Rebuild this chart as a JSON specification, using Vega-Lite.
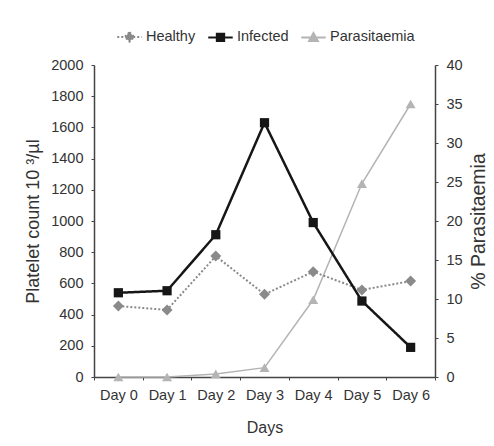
{
  "$schema": "https://vega.github.io/schema/vega-lite/v6.json",
  "width": 341,
  "height": 312,
  "autosize": {"type": "none"},
  "padding": {"left": 94, "top": 65, "right": 59, "bottom": 69},
  "background": "white",
  "config": {
    "view": {"stroke": null},
    "font": "Liberation Sans",
    "axis": {
      "grid": false,
      "labelFont": "Liberation Sans",
      "labelFontSize": 14.5,
      "labelColor": "#333333",
      "titleFont": "Liberation Sans",
      "titleFontSize": 16,
      "titleFontWeight": "normal",
      "titleColor": "#333333",
      "domainColor": "#444444",
      "domainWidth": 1.5,
      "tickColor": "#444444",
      "tickSize": 3,
      "labelPadding": 8
    }
  },
  "data": {
    "values": [
      {"day": "Day 0", "series": "Healthy", "value": 455},
      {"day": "Day 1", "series": "Healthy", "value": 430},
      {"day": "Day 2", "series": "Healthy", "value": 775},
      {"day": "Day 3", "series": "Healthy", "value": 530},
      {"day": "Day 4", "series": "Healthy", "value": 675},
      {"day": "Day 5", "series": "Healthy", "value": 558},
      {"day": "Day 6", "series": "Healthy", "value": 615},
      {"day": "Day 0", "series": "Infected", "value": 540},
      {"day": "Day 1", "series": "Infected", "value": 553},
      {"day": "Day 2", "series": "Infected", "value": 912},
      {"day": "Day 3", "series": "Infected", "value": 1630},
      {"day": "Day 4", "series": "Infected", "value": 990},
      {"day": "Day 5", "series": "Infected", "value": 487},
      {"day": "Day 6", "series": "Infected", "value": 190},
      {"day": "Day 0", "series": "Parasitaemia", "value": 0},
      {"day": "Day 1", "series": "Parasitaemia", "value": 0},
      {"day": "Day 2", "series": "Parasitaemia", "value": 0.4},
      {"day": "Day 3", "series": "Parasitaemia", "value": 1.2},
      {"day": "Day 4", "series": "Parasitaemia", "value": 9.9},
      {"day": "Day 5", "series": "Parasitaemia", "value": 24.8},
      {"day": "Day 6", "series": "Parasitaemia", "value": 35}
    ]
  },
  "encoding": {
    "x": {
      "field": "day",
      "type": "ordinal",
      "scale": {"type": "band", "paddingInner": 0, "paddingOuter": 0},
      "axis": {"title": "Days", "labelAngle": 0, "tickBand": "extent", "titlePadding": 18}
    },
    "color": {
      "field": "series",
      "type": "nominal",
      "scale": {"domain": ["Healthy", "Infected", "Parasitaemia"], "range": ["#8a8a8a", "#161616", "#b4b4b4"]},
      "legend": {
        "orient": "none",
        "legendX": 22,
        "legendY": -42,
        "direction": "horizontal",
        "title": null,
        "symbolSize": 600,
        "labelFont": "Liberation Sans",
        "labelFontSize": 14.5,
        "labelColor": "#333333",
        "labelOffset": 3,
        "columnPadding": 8,
        "encode": {
          "symbols": {
            "update": {
              "shape": {"signal": "datum.value === 'Healthy' ? 'M-1,0H1M0,-0.38L0.38,0L0,0.38L-0.38,0Z' : datum.value === 'Infected' ? 'M-1,0H1M-0.3,-0.3H0.3V0.3H-0.3Z' : 'M-1,0H1M0,-0.36L0.36,0.3H-0.36Z'"},
              "strokeDash": {"signal": "datum.value === 'Healthy' ? [2, 2] : [1, 0]"},
              "fill": {"scale": "color", "field": "value"},
              "stroke": {"scale": "color", "field": "value"},
              "strokeWidth": {"value": 2},
              "fillOpacity": {"value": 1},
              "opacity": {"value": 1}
            }
          }
        }
      }
    }
  },
  "layer": [
    {
      "transform": [{"filter": "datum.series === 'Parasitaemia'"}],
      "encoding": {
        "y": {
          "field": "value",
          "type": "quantitative",
          "scale": {"domain": [0, 40]},
          "axis": {"orient": "right", "title": "% Parasitaemia", "titleAngle": 270, "titleBaseline": "top", "titleFontSize": 19.5, "titlePadding": 7, "values": [0, 5, 10, 15, 20, 25, 30, 35, 40]}
        }
      },
      "layer": [
        {"mark": {"type": "line", "strokeWidth": 1.5}},
        {"mark": {"type": "point", "shape": "triangle-up", "filled": true, "size": 100, "opacity": 1}}
      ]
    },
    {
      "transform": [{"filter": "datum.series !== 'Parasitaemia'"}],
      "encoding": {
        "y": {
          "field": "value",
          "type": "quantitative",
          "scale": {"domain": [0, 2000]},
          "axis": {"orient": "left", "title": "Platelet count 10 ³/µl", "titleFontSize": 18, "titlePadding": 8, "format": "d", "values": [0, 200, 400, 600, 800, 1000, 1200, 1400, 1600, 1800, 2000]}
        }
      },
      "layer": [
        {
          "mark": {"type": "line"},
          "encoding": {
            "strokeDash": {"field": "series", "type": "nominal", "scale": {"domain": ["Healthy", "Infected"], "range": [[2, 2], [1, 0]]}, "legend": null},
            "strokeWidth": {"field": "series", "type": "nominal", "scale": {"domain": ["Healthy", "Infected"], "range": [2, 2.5]}, "legend": null}
          }
        },
        {
          "mark": {"type": "point", "filled": true, "opacity": 1},
          "encoding": {
            "shape": {"field": "series", "type": "nominal", "scale": {"domain": ["Healthy", "Infected"], "range": ["diamond", "square"]}, "legend": null},
            "size": {"field": "series", "type": "nominal", "scale": {"domain": ["Healthy", "Infected"], "range": [120, 85]}, "legend": null}
          }
        }
      ]
    }
  ],
  "resolve": {"scale": {"y": "independent"}}
}
